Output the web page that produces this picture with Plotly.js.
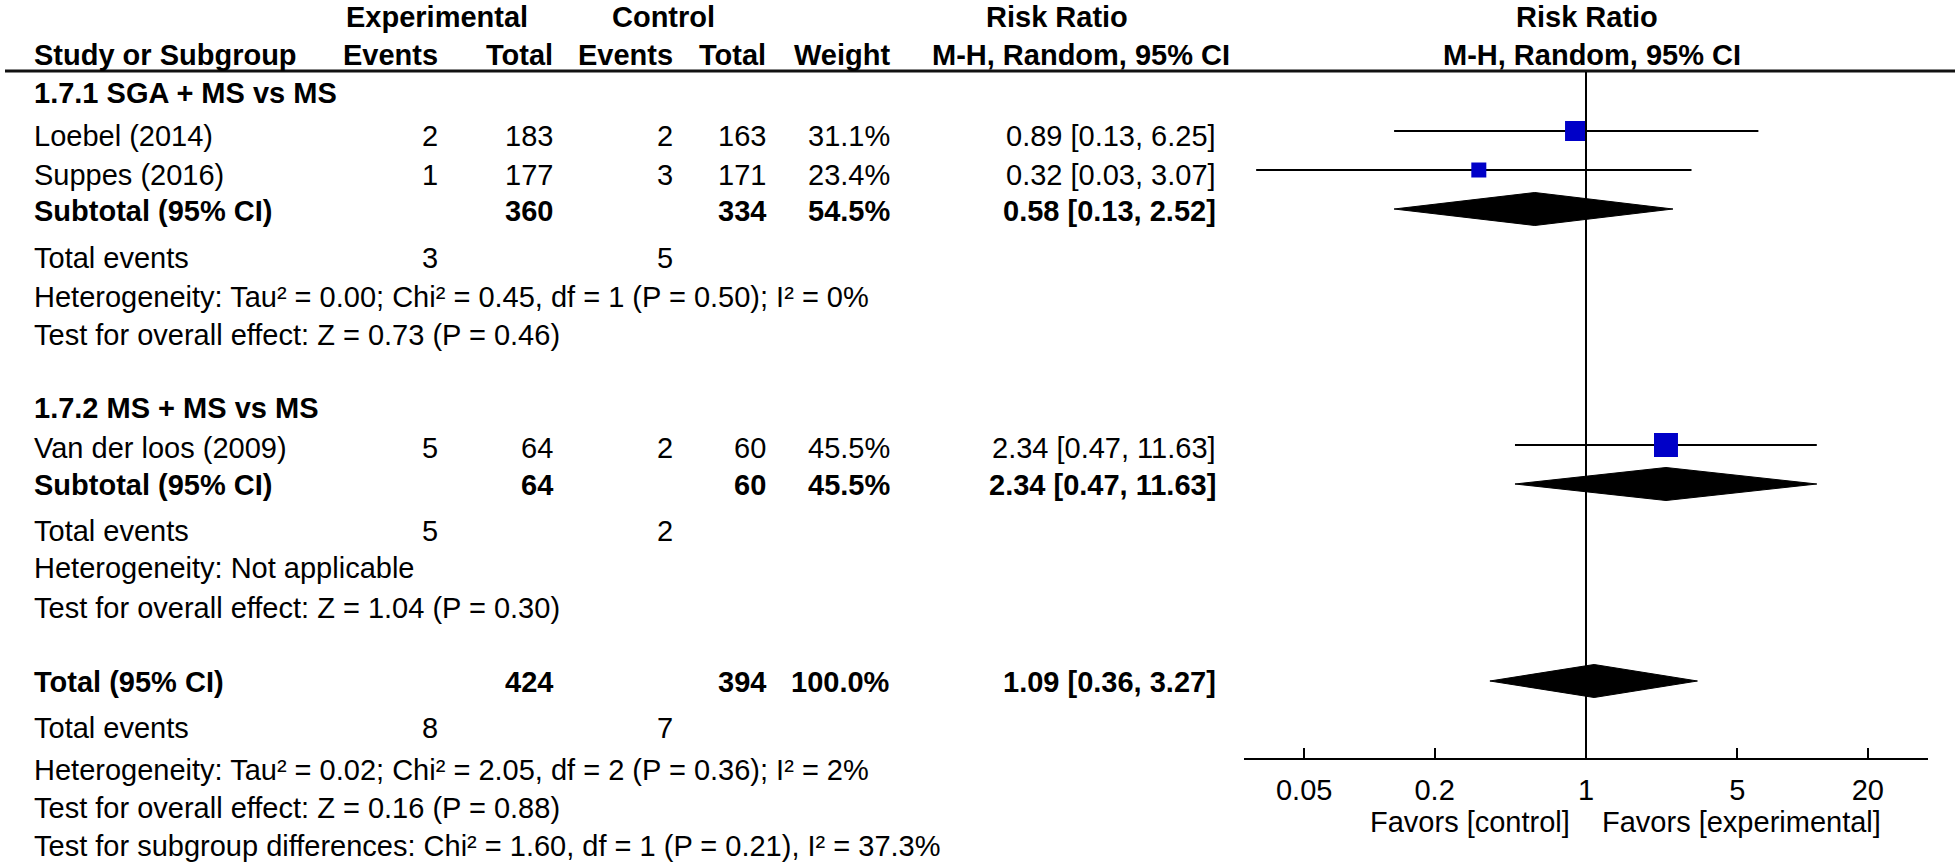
<!DOCTYPE html>
<html>
<head>
<meta charset="utf-8">
<script src="https://cdn.plot.ly/plotly-3.0.1.min.js"></script>
<style>
html,body{margin:0;padding:0;background:#fff;}
#chart{width:1960px;height:864px;}
</style>
</head>
<body>
<div id="chart"></div>
<script>
// ---------------- DATA ----------------
const groupTitles = ['1.7.1 SGA + MS vs MS', '1.7.2 MS + MS vs MS'];
const studies     = ['Loebel (2014)', 'Suppes (2016)', 'Van der loos (2009)'];
const studyGroup  = [0, 0, 1];
const eventsExp   = [2, 1, 5];
const totalExp    = [183, 177, 64];
const eventsCtrl  = [2, 3, 2];
const totalCtrl   = [163, 171, 60];
const weights     = [31.1, 23.4, 45.5];
const rr          = [0.89, 0.32, 2.34];
const rrLow       = [0.13, 0.03, 0.47];
const rrHigh      = [6.25, 3.07, 11.63];

const subTotalExp  = [360, 64];
const subTotalCtrl = [334, 60];
const subWeight    = [54.5, 45.5];
const subRR        = [0.58, 2.34];
const subLow       = [0.13, 0.47];
const subHigh      = [2.52, 11.63];
const subEventsExp = [3, 5];
const subEventsCtrl= [5, 2];
const subHetero    = ['Heterogeneity: Tau² = 0.00; Chi² = 0.45, df = 1 (P = 0.50); I² = 0%',
                      'Heterogeneity: Not applicable'];
const subTest      = ['Test for overall effect: Z = 0.73 (P = 0.46)',
                      'Test for overall effect: Z = 1.04 (P = 0.30)'];

const overallTotalExp  = 424;
const overallTotalCtrl = 394;
const overallWeight    = 100.0;
const overallRR        = 1.09;
const overallLow       = 0.36;
const overallHigh      = 3.27;
const overallEventsExp = 8;
const overallEventsCtrl= 7;
const overallStats = ['Heterogeneity: Tau² = 0.02; Chi² = 2.05, df = 2 (P = 0.36); I² = 2%',
                      'Test for overall effect: Z = 0.16 (P = 0.88)',
                      'Test for subgroup differences: Chi² = 1.60, df = 1 (P = 0.21), I² = 37.3%'];

const tickVals   = [0.05, 0.2, 1, 5, 20];
const tickLabels = ['0.05', '0.2', '1', '5', '20'];
const favorsLeft  = 'Favors [control]';
const favorsRight = 'Favors [experimental]';

// ---------------- LAYOUT (pixel positions) ----------------
const W = 1960, H = 864;
const FONT = 'Liberation Sans, Arial, Helvetica, sans-serif';
const FS = 29;
const colRight = {evE: 440, totE: 555, evC: 675, totC: 768, wt: 892, ci: 1218};
const labelX = 32;
const rowText = {
  hdr1: 17, hdr2: 55,
  grp: [93, 408],
  study: [136, 175, 448],
  sub: [211, 485],
  subEv: [258, 531],
  subHet: [297, 568],
  subTest: [335, 608],
  total: 682, totalEv: 728, stats: [770, 808, 846]
};
const markY = {study: [131, 170, 445], sub: [209, 484], total: 681};
const squareSize = [20, 15, 24];
const diamondHalf = 16.5;
const axisY = 759, vlineTop = 72, headerLineY = 71;

const fmt2 = v => v.toFixed(2);
const ciText = (m, l, h) => fmt2(m) + ' [' + fmt2(l) + ', ' + fmt2(h) + ']';

const ann = [];
function txt(text, xpx, ypx, anchor, bold, size) {
  ann.push({
    text: bold ? '<b>' + text + '</b>' : text,
    xref: 'paper', yref: 'y', x: xpx / W, y: ypx,
    xanchor: anchor, yanchor: 'middle', showarrow: false,
    font: {family: FONT, size: size || FS, color: '#000'}
  });
}

// headers
txt('Experimental', 437, rowText.hdr1, 'center', true);
txt('Control', 663, rowText.hdr1, 'center', true);
txt('Risk Ratio', 1057, rowText.hdr1, 'center', true);
txt('Risk Ratio', 1587, rowText.hdr1, 'center', true);
txt('Study or Subgroup', labelX, rowText.hdr2, 'left', true);
txt('Events', colRight.evE, rowText.hdr2, 'right', true);
txt('Total', colRight.totE, rowText.hdr2, 'right', true);
txt('Events', colRight.evC, rowText.hdr2, 'right', true);
txt('Total', colRight.totC, rowText.hdr2, 'right', true);
txt('Weight', colRight.wt, rowText.hdr2, 'right', true);
txt('M-H, Random, 95% CI', 1081, rowText.hdr2, 'center', true);
txt('M-H, Random, 95% CI', 1592, rowText.hdr2, 'center', true);

// groups
groupTitles.forEach((g, gi) => {
  txt(g, labelX, rowText.grp[gi], 'left', true);
  txt('Subtotal (95% CI)', labelX, rowText.sub[gi], 'left', true);
  txt(String(subTotalExp[gi]), colRight.totE, rowText.sub[gi], 'right', true);
  txt(String(subTotalCtrl[gi]), colRight.totC, rowText.sub[gi], 'right', true);
  txt(subWeight[gi].toFixed(1) + '%', colRight.wt, rowText.sub[gi], 'right', true);
  txt(ciText(subRR[gi], subLow[gi], subHigh[gi]), colRight.ci, rowText.sub[gi], 'right', true);
  txt('Total events', labelX, rowText.subEv[gi], 'left', false);
  txt(String(subEventsExp[gi]), colRight.evE, rowText.subEv[gi], 'right', false);
  txt(String(subEventsCtrl[gi]), colRight.evC, rowText.subEv[gi], 'right', false);
  txt(subHetero[gi], labelX, rowText.subHet[gi], 'left', false);
  txt(subTest[gi], labelX, rowText.subTest[gi], 'left', false);
});

// studies
studies.forEach((s, i) => {
  const y = rowText.study[i];
  txt(s, labelX, y, 'left', false);
  txt(String(eventsExp[i]), colRight.evE, y, 'right', false);
  txt(String(totalExp[i]), colRight.totE, y, 'right', false);
  txt(String(eventsCtrl[i]), colRight.evC, y, 'right', false);
  txt(String(totalCtrl[i]), colRight.totC, y, 'right', false);
  txt(weights[i].toFixed(1) + '%', colRight.wt, y, 'right', false);
  txt(ciText(rr[i], rrLow[i], rrHigh[i]), colRight.ci, y, 'right', false);
});

// overall
txt('Total (95% CI)', labelX, rowText.total, 'left', true);
txt(String(overallTotalExp), colRight.totE, rowText.total, 'right', true);
txt(String(overallTotalCtrl), colRight.totC, rowText.total, 'right', true);
txt(overallWeight.toFixed(1) + '%', colRight.wt, rowText.total, 'right', true);
txt(ciText(overallRR, overallLow, overallHigh), colRight.ci, rowText.total, 'right', true);
txt('Total events', labelX, rowText.totalEv, 'left', false);
txt(String(overallEventsExp), colRight.evE, rowText.totalEv, 'right', false);
txt(String(overallEventsCtrl), colRight.evC, rowText.totalEv, 'right', false);
overallStats.forEach((s, k) => txt(s, labelX, rowText.stats[k], 'left', false));

// favors labels
txt(favorsLeft, 1572, 822, 'right', false);
txt(favorsRight, 1600, 822, 'left', false);

// ---------------- TRACES ----------------
const traces = [];
// CI lines
const ciX = [], ciY = [];
studies.forEach((s, i) => { ciX.push(rrLow[i], rrHigh[i], null); ciY.push(markY.study[i], markY.study[i], null); });
traces.push({x: ciX, y: ciY, type: 'scatter', mode: 'lines', line: {color: '#000', width: 2}, hoverinfo: 'skip'});
// squares
traces.push({x: rr, y: markY.study, type: 'scatter', mode: 'markers', opacity: 1,
  marker: {symbol: 'square', size: squareSize, color: '#0000c8', opacity: 1, line: {width: 0}}, text: studies});
// diamonds
function diamond(m, l, h, yc) {
  return {x: [l, m, h, m, l], y: [yc, yc - diamondHalf, yc, yc + diamondHalf, yc],
    type: 'scatter', mode: 'lines', fill: 'toself', fillcolor: '#000',
    line: {color: '#000', width: 1}, hoverinfo: 'skip'};
}
subRR.forEach((m, gi) => traces.push(diamond(m, subLow[gi], subHigh[gi], markY.sub[gi])));
traces.push(diamond(overallRR, overallLow, overallHigh, markY.total));

const layout = {
  width: W, height: H,
  margin: {l: 0, r: 0, t: 0, b: 0, pad: 0},
  paper_bgcolor: '#fff', plot_bgcolor: 'rgba(0,0,0,0)',
  showlegend: false,
  xaxis: {
    type: 'log', range: [-1.579, 1.579],
    domain: [1244 / W, 1928 / W],
    anchor: 'free', position: (H - axisY) / H,
    tickvals: tickVals, ticktext: tickLabels,
    ticks: 'inside', ticklen: 10, tickwidth: 2, tickcolor: '#000',
    showline: true, linecolor: '#000', linewidth: 2,
    showgrid: false, zeroline: false,
    tickfont: {family: FONT, size: FS, color: '#000'},
    ticklabelstandoff: 5,
    fixedrange: true
  },
  yaxis: {range: [H, 0], domain: [0, 1], visible: false, fixedrange: true},
  shapes: [
    {type: 'line', xref: 'paper', yref: 'y', x0: 5 / W, x1: 1955 / W, y0: headerLineY, y1: headerLineY,
     line: {color: '#111', width: 3}},
    {type: 'line', xref: 'x', yref: 'y', x0: 1, x1: 1, y0: vlineTop, y1: axisY,
     line: {color: '#000', width: 2}}
  ],
  annotations: ann
};

Plotly.newPlot('chart', traces, layout, {displayModeBar: false, staticPlot: true});
</script>
</body>
</html>
